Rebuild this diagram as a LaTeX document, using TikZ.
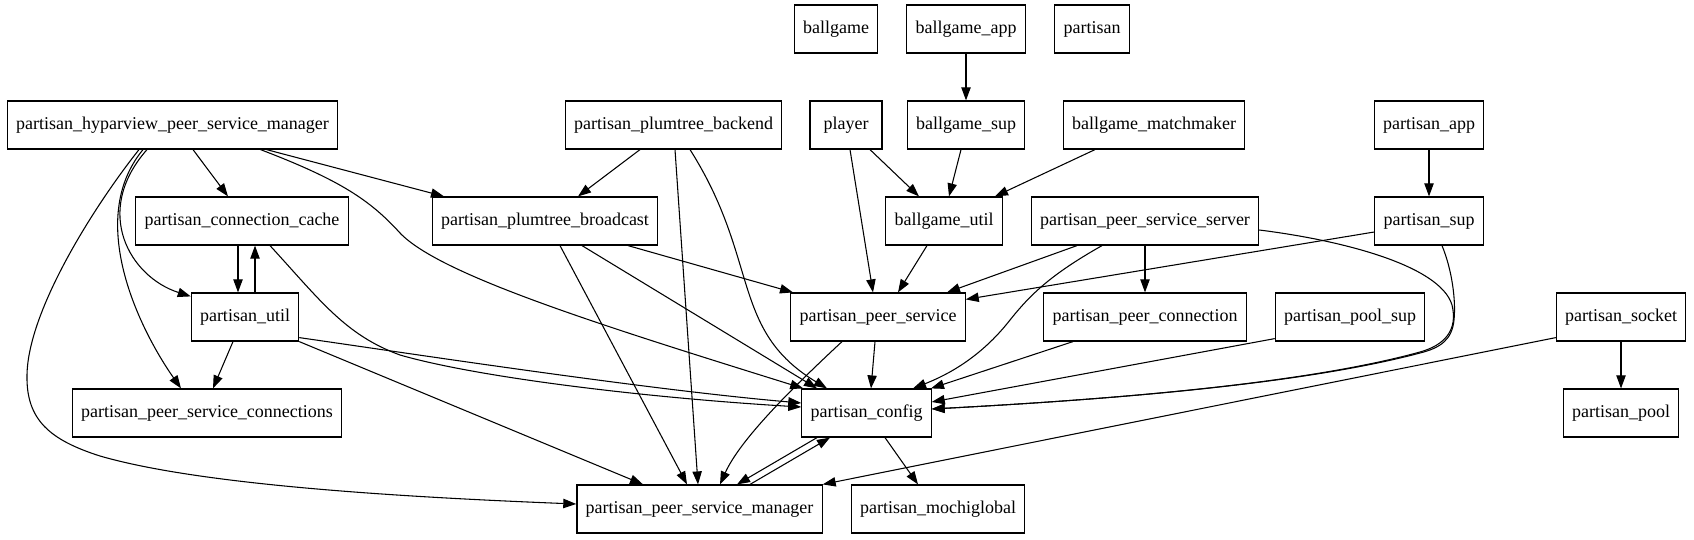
\documentclass[tikz,border=0pt]{standalone}
\usepackage{fontspec}
\setmainfont{Liberation Serif}
\usetikzlibrary{arrows.meta,calc}
\tikzset{
  deparr/.style={-{Triangle[length=9.75pt,width=7pt]}, line width=0.8pt},
  depbox/.style={draw, line width=0.9pt, minimum height=36pt, minimum width=54pt, inner xsep=6.5pt},
}

\begin{document}
\begin{tikzpicture}[x=0.75pt, y=-0.75pt, font=\fontsize{13.5}{16}\selectfont]
  \useasboundingbox (0,0) rectangle (1694,539);
  \node[depbox] (bg) at (836,29) {ballgame};
  \node[depbox] (bapp) at (966,29) {ballgame\_app};
  \node[depbox] (pt) at (1092,29) {partisan};
  \node[depbox] (hpsm) at (172.5,125) {partisan\_hyparview\_peer\_service\_manager};
  \node[depbox] (pback) at (673.5,125) {partisan\_plumtree\_backend};
  \node[depbox] (player) at (846,125) {player};
  \node[depbox] (bsup) at (966,125) {ballgame\_sup};
  \node[depbox] (bmm) at (1154,125) {ballgame\_matchmaker};
  \node[depbox] (papp) at (1429,125) {partisan\_app};
  \node[depbox] (cc) at (242,221) {partisan\_connection\_cache};
  \node[depbox] (bcast) at (545,221) {partisan\_plumtree\_broadcast};
  \node[depbox] (bgu) at (944,221) {ballgame\_util};
  \node[depbox] (pss) at (1145,221) {partisan\_peer\_service\_server};
  \node[depbox] (psup) at (1429,221) {partisan\_sup};
  \node[depbox] (util) at (245,317) {partisan\_util};
  \node[depbox] (ps) at (878,317) {partisan\_peer\_service};
  \node[depbox] (pconn) at (1145,317) {partisan\_peer\_connection};
  \node[depbox] (poolsup) at (1350,317) {partisan\_pool\_sup};
  \node[depbox] (sock) at (1621,317) {partisan\_socket};
  \node[depbox] (psc) at (207,413) {partisan\_peer\_service\_connections};
  \node[depbox] (cfg) at (866.5,413) {partisan\_config};
  \node[depbox] (pool) at (1621,413) {partisan\_pool};
  \node[depbox] (psm) at (699.5,509) {partisan\_peer\_service\_manager};
  \node[depbox] (mochi) at (938,509) {partisan\_mochiglobal};
  \foreach \a/\p/\b/\q in {bapp/0/bsup/0, hpsm/20.5/cc/-14, hpsm/94/bcast/-101,
      pback/-33.5/bcast/33, pback/1.5/psm/-1.5, player/24/bgu/-25, player/4/ps/-5,
      bsup/-5/bgu/5, bmm/-59/bgu/51, papp/0/psup/0, cc/-4/util/-7, bcast/83/ps/-85,
      bcast/37/cfg/-49.5, bcast/15/psm/-12.5, bgu/-17/ps/20, pss/-68/ps/69,
      pss/0/pconn/0, util/-12/psc/6, ps/-3/cfg/4.5, pconn/-72/cfg/64.5,
      sock/0/pool/0, cfg/-49.5/psm/37.5, cfg/18.5/mochi/-20}
    \draw[deparr] ($(\a.south)+(\p,0)$) -- ($(\b.north)+(\q,0)$);
  \draw[deparr] ($(util.north)+(10,0)$) -- ($(cc.south)+(13,0)$);
  \draw[deparr] ($(hpsm.south)+(-25.5,0)$) .. controls (92,212) and (130,277) .. ($(util.north west)+(0,4)$);
  \draw[deparr] ($(hpsm.south)+(-29.5,0)$) .. controls (85,220) and (140,330) .. ($(psc.north)+(-26,0)$);
  \draw[deparr] ($(hpsm.south)+(-33.5,0)$) .. controls (95,205) and (28,310) .. (27,375)
    .. controls (26,420) and (50,440) .. (100,456) .. controls (200,485) and (400,497) .. ($(psm.west)+(0,-5)$);
  \draw[deparr] ($(hpsm.south)+(88,0)$) .. controls (340,180) and (370,200) .. (400,233)
    .. controls (440,275) and (600,325) .. ($(cfg.north west)+(2,0)$);
  \draw[deparr] ($(pback.south)+(16.5,0)$) .. controls (760,260) and (730,330) .. ($(cfg.north)+(-39.5,0)$);
  \draw[deparr] ($(cc.south)+(28,0)$) .. controls (320,300) and (345,335) .. (400,355)
    .. controls (480,378) and (650,398) .. ($(cfg.west)+(0,-6)$);
  \draw[deparr] ($(util.south east)+(0,-4)$) .. controls (420,355) and (650,390) .. ($(cfg.west)+(0,-10)$);
  \draw[deparr] (util.south east) -- ($(psm.north)+(-56.5,0)$);
  \draw[deparr] ($(ps.south)+(-36,0)$) .. controls (790,390) and (740,440) .. ($(psm.north)+(20.5,0)$);
  \draw[deparr] ($(pss.south)+(-43,0)$) .. controls (1050,275) and (1030,295) .. (1010,320)
    .. controls (985,352) and (955,372) .. ($(cfg.north)+(46.5,0)$);
  \draw[deparr] ($(pss.east)+(0,9)$) .. controls (1340,240) and (1440,265) .. (1452,305)
    .. controls (1458,330) and (1445,345) .. (1420,352) .. controls (1300,385) and (1100,400) .. ($(cfg.east)+(0,-4)$);
  \draw[deparr] ($(psup.south)+(13,0)$) .. controls (1452,270) and (1456,300) .. (1454,320)
    .. controls (1452,340) and (1440,348) .. (1420,353) .. controls (1300,385) and (1100,400) .. ($(cfg.east)+(0,-4)$);
  \draw[deparr] ($(psup.west)+(0,11)$) -- ($(ps.north east)+(0,7)$);
  \draw[deparr] ($(poolsup.south west)+(0,-3)$) -- ($(cfg.east)+(0,-11)$);
  \draw[deparr] ($(sock.south west)+(0,-4)$) -- (psm.north east);
  \draw[deparr] ($(psm.north)+(50.5,0)$) -- ($(cfg.south)+(-36.5,0)$);
\end{tikzpicture}
\end{document}
